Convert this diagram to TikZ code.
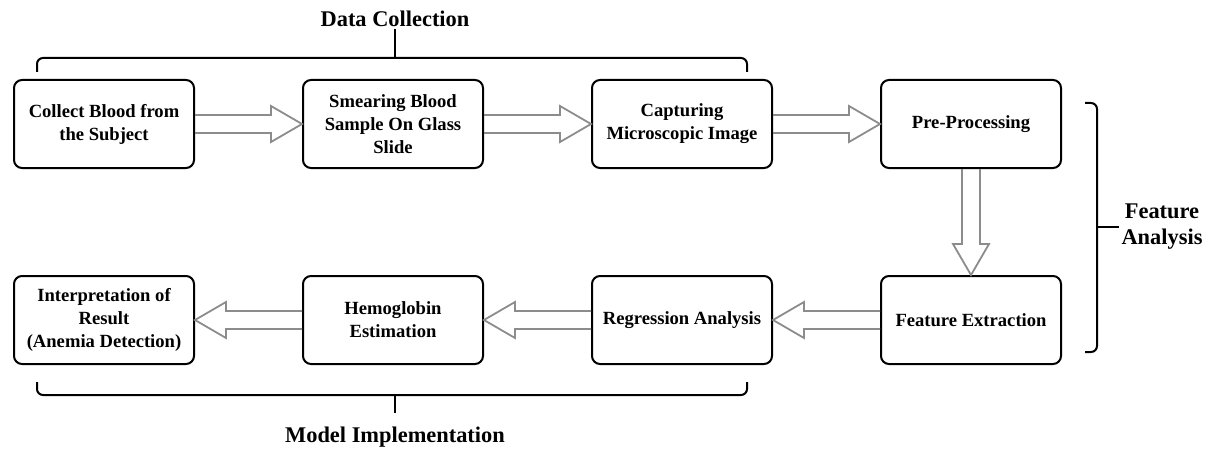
\documentclass[tikz,border=0pt]{standalone}
\usepackage{fontspec}
\setmainfont{Liberation Serif}
\usepackage{tikz}
\usetikzlibrary{calc,positioning}
\tikzset{stepbox/.style={draw, thick, line width=1pt, rounded corners=4pt, text centered, align=center, minimum width=90pt, minimum height=44pt, inner sep=2pt, font=\fontsize{9.3}{11.5}\selectfont\bfseries}}
\tikzset{fatline/.style={draw=black!45, line width=0.9pt, line join=miter}}
\tikzset{brace/.style={draw, line width=1pt, rounded corners=3pt}}
\tikzset{lbl/.style={align=center, inner sep=1pt, font=\fontsize{11.2}{13}\selectfont\bfseries}}
\newcommand{\fatarrow}[2]{%
  \coordinate (fa-h) at ($(#2)!15.5pt!(#1)$);
  \path [fatline] ($(#1)!4.5pt!90:(#2)$) -- ($(fa-h)!4.5pt!-90:(#1)$) -- ($(fa-h)!9pt!-90:(#1)$) -- (#2)
        -- ($(fa-h)!9pt!90:(#1)$) -- ($(fa-h)!4.5pt!90:(#1)$) -- ($(#1)!4.5pt!-90:(#2)$);}

\begin{document}
\begin{tikzpicture}[x=0.5pt,y=-0.5pt,node distance=53pt and 53.5pt]
				\useasboundingbox (0,0) rectangle (1209,449);
				\node [stepbox] at (104,124)              (collect)  {Collect Blood from\\the Subject};
				\node [stepbox, right= of collect]        (smear)    {Smearing Blood\\Sample On Glass\\Slide};
				\node [stepbox, right= of smear]          (capture)  {Capturing\\Microscopic Image};
				\node [stepbox, right= of capture]        (prep)     {Pre-Processing};
				\node [stepbox, below= of prep]           (feat)     {Feature Extraction};
				\node [stepbox, left= of feat]            (regr)     {Regression Analysis};
				\node [stepbox, left= of regr]            (hemo)     {Hemoglobin\\Estimation};
				\node [stepbox, left= of hemo]            (interp)   {Interpretation of\\Result\\(Anemia Detection)};
				%
				\fatarrow{collect.east}{smear.west}
				\fatarrow{smear.east}{capture.west}
				\fatarrow{capture.east}{prep.west}
				\fatarrow{prep.south}{feat.north}
				\fatarrow{feat.west}{regr.east}
				\fatarrow{regr.west}{hemo.east}
				\fatarrow{hemo.west}{interp.east}
				%
				\node [lbl] at (395,19)   (datacol)  {Data Collection};
				\node [lbl] at (395,437)  (modimp)   {Model Implementation};
				\node [lbl] at (1162,227) (featan)   {Feature\\Analysis};
				\draw [brace] (37,72) -- (37,58) -- (747,58) -- (747,72);
				\draw [brace] (395,58) -- (datacol.south);
				\draw [brace] (37,382) -- (37,395) -- (747,395) -- (747,382);
				\draw [brace] (395,395) -- (395,413);
				\draw [brace] (1085,103) -- (1097,103) -- (1097,352) -- (1085,352);
				\draw [brace] (1097,227) -- (featan.west);
\end{tikzpicture}
\end{document}
